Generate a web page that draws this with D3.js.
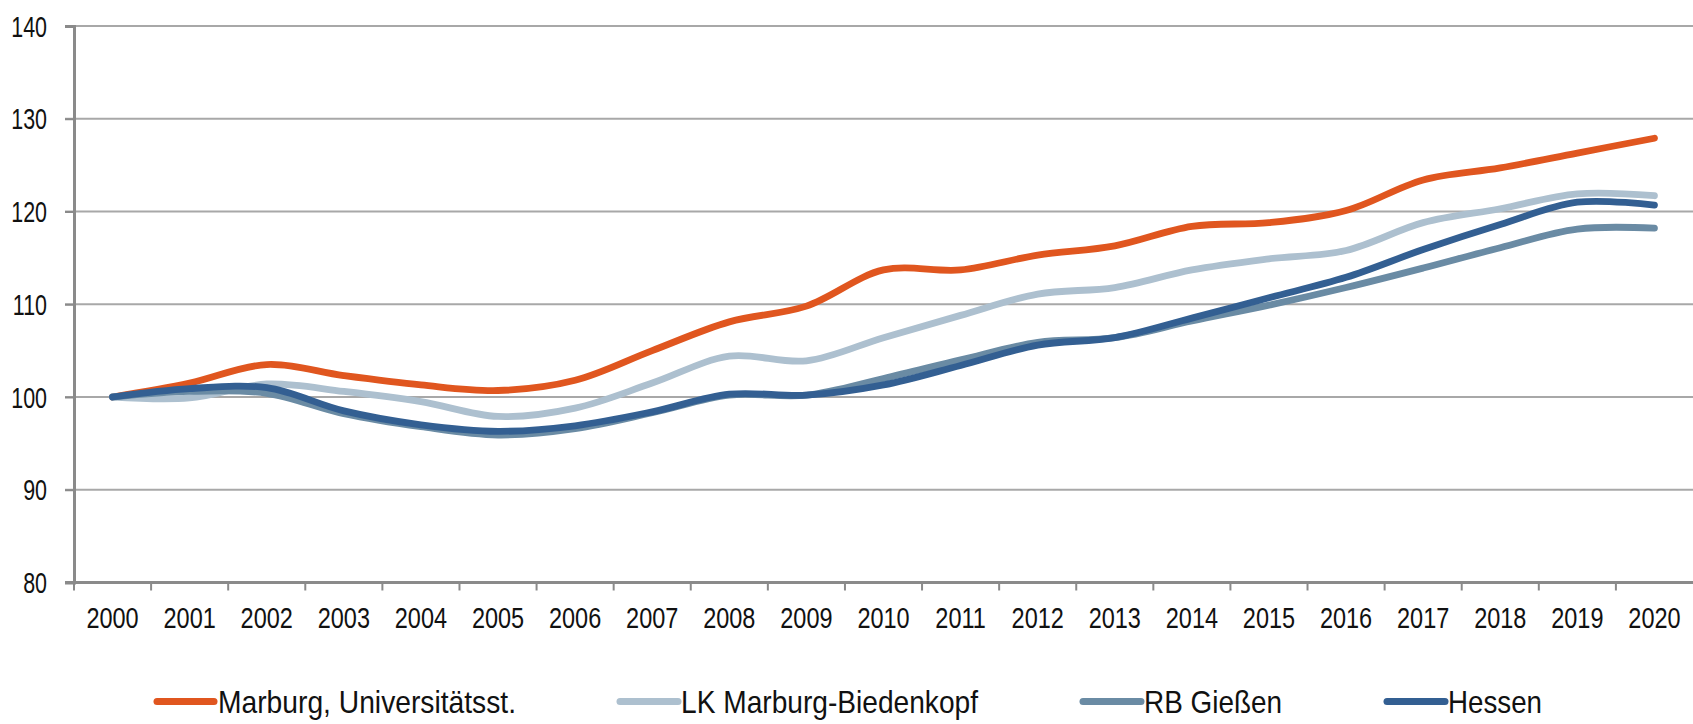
<!DOCTYPE html>
<html>
<head>
<meta charset="utf-8">
<script src="https://cdn.jsdelivr.net/npm/d3@7"></script>
<style>
  html, body { margin: 0; padding: 0; background: white; }
  svg { display: block; }
</style>
</head>
<body>
<script>
const years = ["2000","2001","2002","2003","2004","2005","2006","2007","2008","2009","2010",
               "2011","2012","2013","2014","2015","2016","2017","2018","2019","2020"]
const marburg = [100, 101.5, 103.5, 102.3, 101.3, 100.7, 101.8, 105.0, 108.1, 109.8, 113.7,
                 113.7, 115.3, 116.3, 118.4, 118.8, 120.1, 123.4, 124.7, 126.3, 127.9]
const lkMarburg = [100, 99.9, 101.4, 100.6, 99.5, 97.9, 98.8, 101.5, 104.4, 103.9, 106.4,
                   108.8, 111.1, 111.8, 113.7, 114.9, 115.8, 118.8, 120.3, 121.9, 121.7]
const rbGiessen = [100, 100.6, 100.4, 98.2, 96.8, 95.9, 96.6, 98.3, 100.2, 100.2, 102.0,
                   104.0, 105.9, 106.4, 108.2, 109.9, 111.8, 113.9, 116.1, 118.1, 118.2]
const hessen = [100, 100.9, 101.0, 98.5, 97.0, 96.3, 96.9, 98.4, 100.3, 100.2, 101.3,
                103.4, 105.6, 106.4, 108.5, 110.7, 112.9, 115.9, 118.6, 121.0, 120.7]
const seriesNames = ["Marburg, Universitätsst.", "LK Marburg-Biedenkopf", "RB Gießen", "Hessen"]
const yTicks = [80, 90, 100, 110, 120, 130, 140]

const colors = {
    marburg: "#e0561f",
    lk: "#adc0cf",
    rb: "#6a8ba4",
    hessen: "#335f92",
    grid: "#a8a8a8",
    axis: "#8a8a8a",
    text: "#111111"
}

const [width, height] = [1693, 724]
const plot = { left: 74, right: 1693, top: 26, bottom: 582.5 }

const series = [
    { name: seriesNames[0], values: marburg, color: colors.marburg },
    { name: seriesNames[1], values: lkMarburg, color: colors.lk },
    { name: seriesNames[2], values: rbGiessen, color: colors.rb },
    { name: seriesNames[3], values: hessen, color: colors.hessen }
]

const x = d3.scaleBand().domain(years).range([plot.left, plot.right])
const y = d3.scaleLinear().domain([80, 140]).range([plot.bottom, plot.top])

const svg = d3.select("body").append("svg")
    .attr("width", width)
    .attr("height", height)
    .style("font-family", "'Liberation Sans', Arial, sans-serif")

// gridlines
svg.append("g")
    .selectAll("line")
    .data(yTicks.filter(t => t > 80))
    .enter()
    .append("line")
        .attr("x1", plot.left - 9)
        .attr("x2", plot.right)
        .attr("y1", d => y(d))
        .attr("y2", d => y(d))
        .attr("stroke", colors.grid)
        .attr("stroke-width", 1.8)

// y axis
const yAxis = svg.append("g")
    .attr("transform", `translate(${plot.left},0)`)
    .call(d3.axisLeft(y).tickValues(yTicks).tickSize(9).tickPadding(0).tickFormat(d3.format("d")))
yAxis.select(".domain").attr("stroke", colors.axis).attr("stroke-width", 3)
yAxis.selectAll(".tick line").attr("stroke", colors.axis).attr("stroke-width", 2)
yAxis.selectAll(".tick text").remove()

svg.append("g")
    .selectAll("text")
    .data(yTicks)
    .enter()
    .append("text")
        .text(d => d)
        .attr("text-anchor", "end")
        .attr("font-size", 29)
        .attr("fill", colors.text)
        .attr("transform", d => `translate(47,${y(d) + 10.7}) scale(0.74,1)`)

// x axis
const xAxis = svg.append("g")
    .attr("transform", `translate(0,${plot.bottom})`)
    .call(d3.axisBottom(x).tickSize(0))
xAxis.select(".domain").remove()
xAxis.selectAll(".tick text").remove()
xAxis.append("line")
    .attr("x1", plot.left - 9).attr("x2", plot.right)
    .attr("stroke", colors.axis).attr("stroke-width", 3)
xAxis.selectAll(".sep")
    .data(years)
    .enter()
    .append("line")
        .attr("x1", d => x(d))
        .attr("x2", d => x(d))
        .attr("y1", 0)
        .attr("y2", 8)
        .attr("stroke", colors.axis)
        .attr("stroke-width", 2)

svg.append("g")
    .selectAll("text")
    .data(years)
    .enter()
    .append("text")
        .text(d => d)
        .attr("text-anchor", "middle")
        .attr("font-size", 29)
        .attr("fill", colors.text)
        .attr("transform", d => `translate(${x(d) + x.bandwidth() / 2},628) scale(0.81,1)`)

// lines
const line = d3.line()
    .x((d, i) => x(years[i]) + x.bandwidth() / 2)
    .y(d => y(d))
    .curve(d3.curveCatmullRom.alpha(0.5))

svg.append("g")
    .selectAll("path")
    .data(series)
    .enter()
    .append("path")
        .attr("d", d => line(d.values))
        .attr("fill", "none")
        .attr("stroke", d => d.color)
        .attr("stroke-width", 6.8)
        .attr("stroke-linecap", "round")
        .attr("stroke-linejoin", "round")

// legend
const legendItems = [
    { x0: 157, x1: 214, tx: 218, tw: 298 },
    { x0: 620, x1: 678, tx: 681, tw: 297 },
    { x0: 1083, x1: 1141, tx: 1144, tw: 138 },
    { x0: 1387, x1: 1445, tx: 1448, tw: 94 }
]
const legend = svg.append("g")
    .selectAll("g")
    .data(series)
    .enter()
    .append("g")
legend.append("line")
    .attr("x1", (d, i) => legendItems[i].x0)
    .attr("x2", (d, i) => legendItems[i].x1)
    .attr("y1", 701.5)
    .attr("y2", 701.5)
    .attr("stroke", d => d.color)
    .attr("stroke-width", 7)
    .attr("stroke-linecap", "round")
legend.append("text")
    .text(d => d.name)
    .attr("x", (d, i) => legendItems[i].tx)
    .attr("y", 713)
    .attr("font-size", 32)
    .attr("fill", colors.text)
    .attr("textLength", (d, i) => legendItems[i].tw)
    .attr("lengthAdjust", "spacingAndGlyphs")
</script>
</body>
</html>
